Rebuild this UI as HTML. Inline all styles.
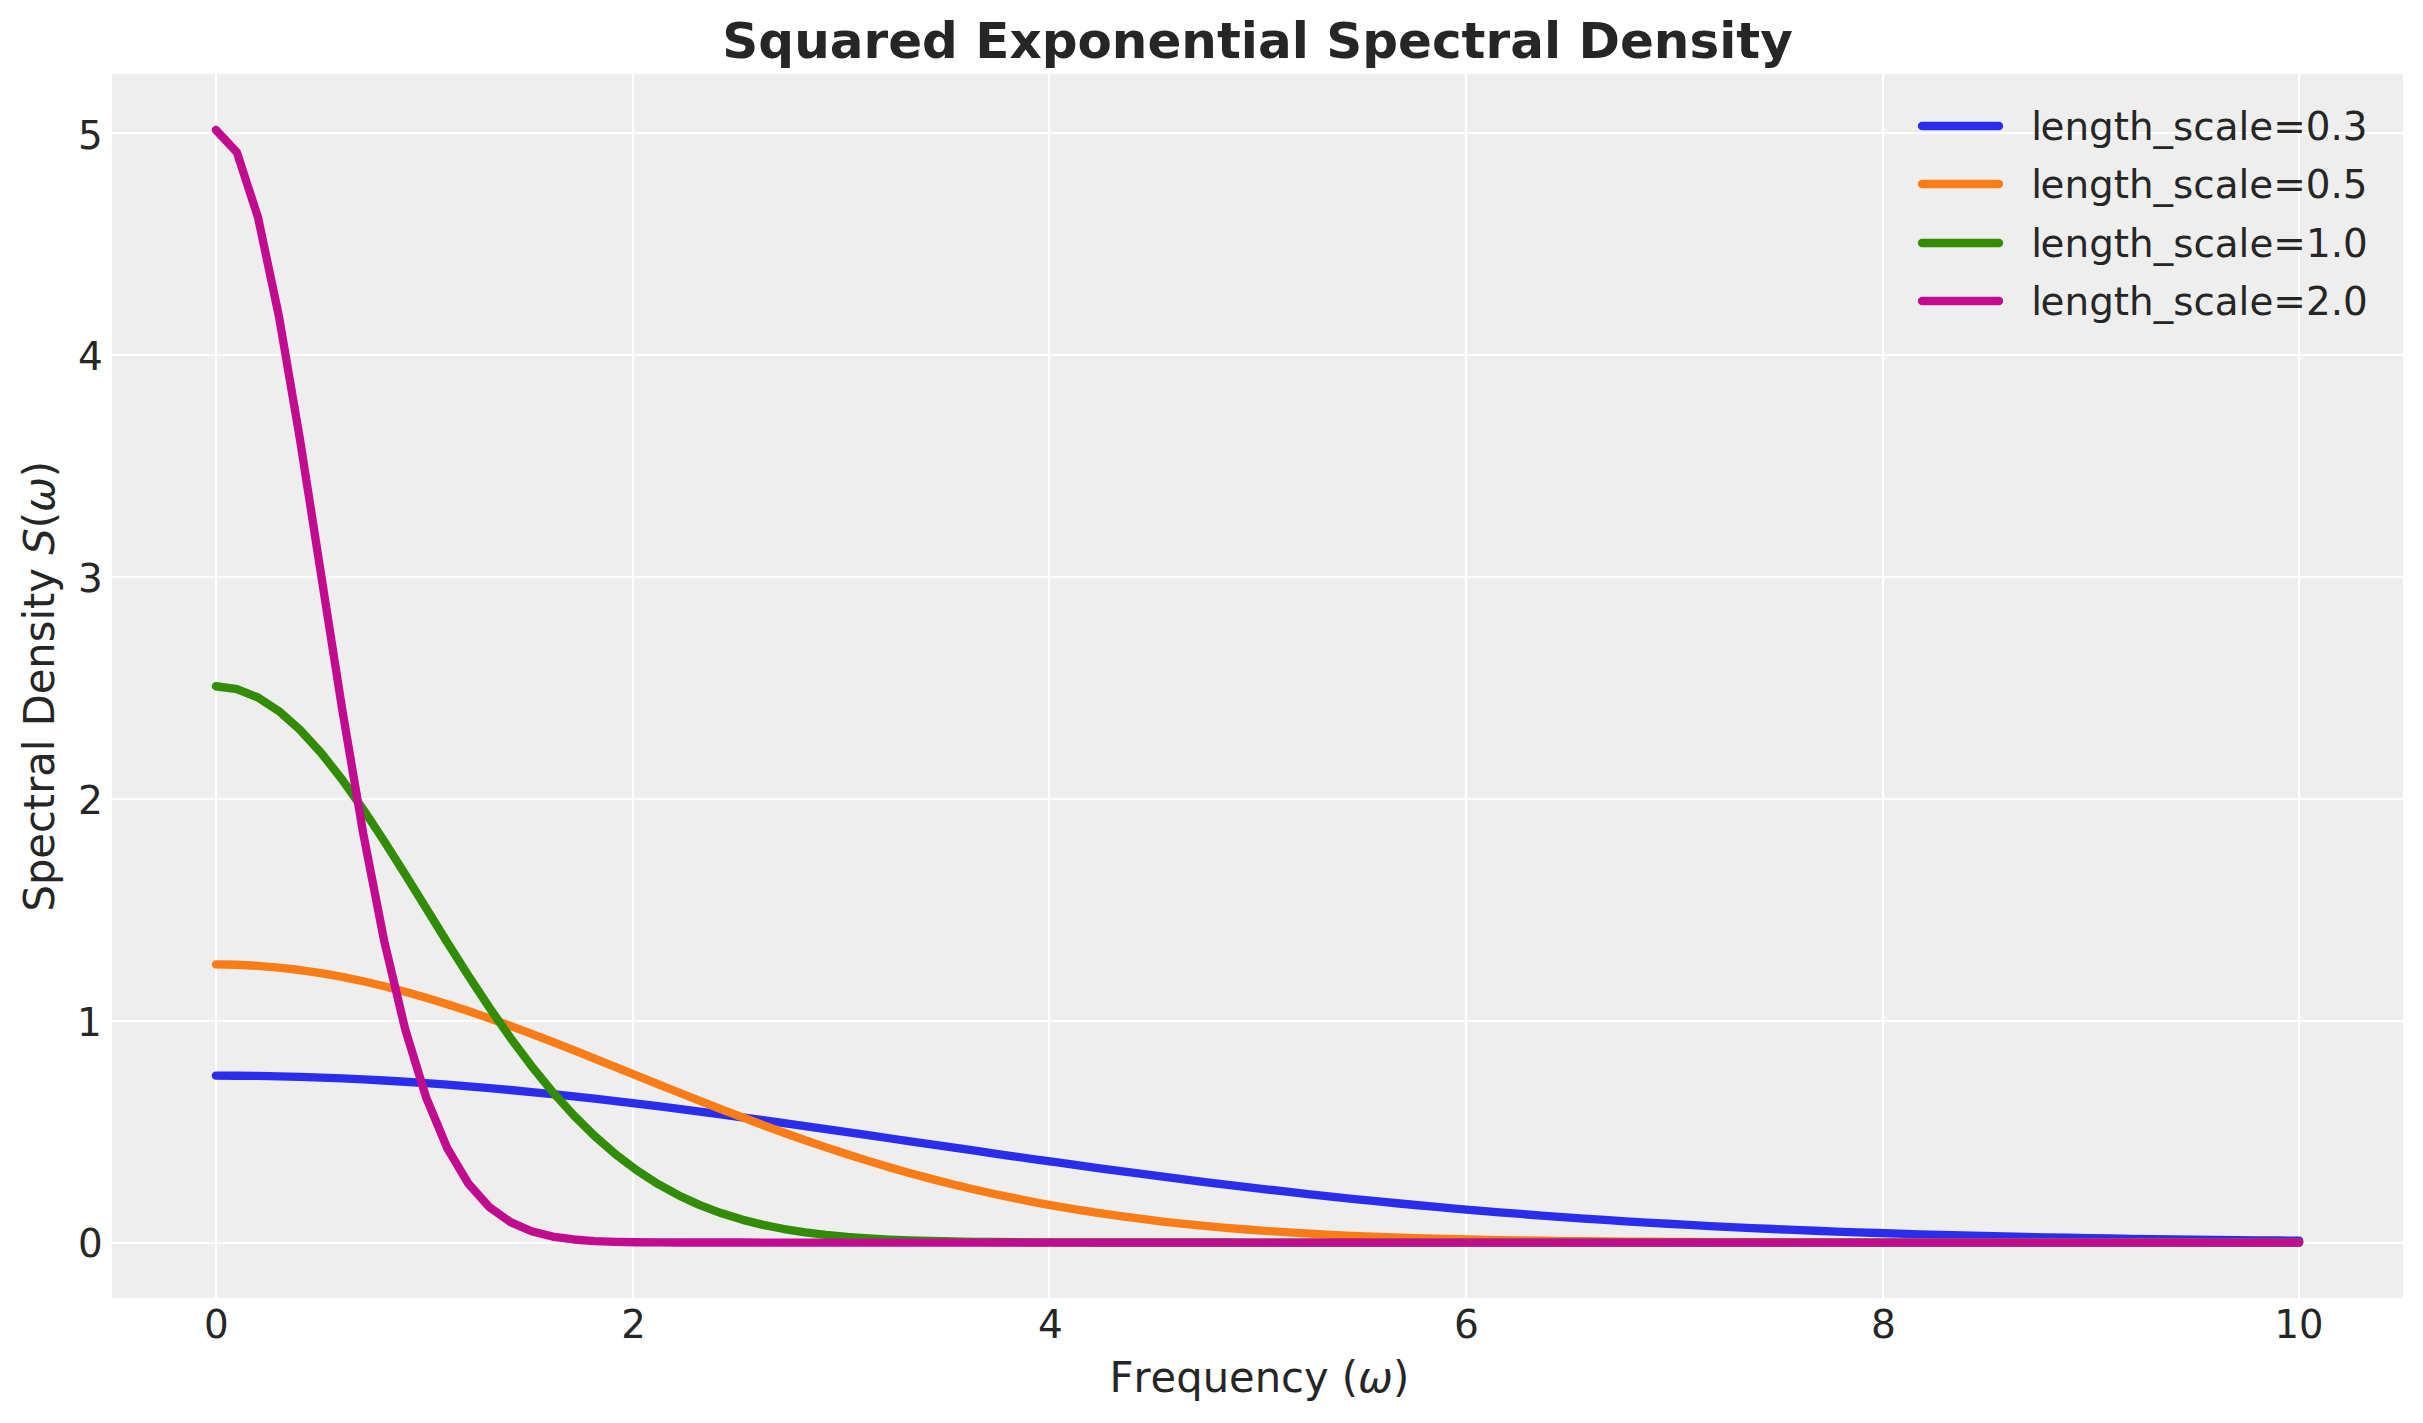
<!DOCTYPE html>
<html><head><meta charset="utf-8"><title>Squared Exponential Spectral Density</title>
<style>
html,body{margin:0;padding:0;background:#fff;}
body{width:2423px;height:1423px;overflow:hidden;}
svg{display:block;}
text{font-family:"DejaVu Sans","Liberation Sans",sans-serif;fill:#262626;}
.tick{font-size:38.89px;}
.lab{font-size:41.67px;font-kerning:none;}
.ttl{font-size:50px;font-weight:bold;}
.it{font-style:italic;}
</style></head><body>
<svg width="2423" height="1423" viewBox="0 0 2423 1423">
<rect x="0" y="0" width="2423" height="1423" fill="#ffffff"/>
<rect x="112.0" y="74.0" width="2291.0" height="1224.0" fill="#eeeeee"/>

<g stroke="#ffffff" stroke-width="2.2" fill="none">
<line x1="216" y1="74.0" x2="216" y2="1298.0"/>
<line x1="633" y1="74.0" x2="633" y2="1298.0"/>
<line x1="1049" y1="74.0" x2="1049" y2="1298.0"/>
<line x1="1466" y1="74.0" x2="1466" y2="1298.0"/>
<line x1="1883" y1="74.0" x2="1883" y2="1298.0"/>
<line x1="2299" y1="74.0" x2="2299" y2="1298.0"/>
<line x1="112.0" y1="1243" x2="2403.0" y2="1243"/>
<line x1="112.0" y1="1021" x2="2403.0" y2="1021"/>
<line x1="112.0" y1="799" x2="2403.0" y2="799"/>
<line x1="112.0" y1="577" x2="2403.0" y2="577"/>
<line x1="112.0" y1="355" x2="2403.0" y2="355"/>
<line x1="112.0" y1="133" x2="2403.0" y2="133"/>
</g>
<g fill="none" stroke-width="8.33" stroke-linecap="round" stroke-linejoin="round">
<path d="M215.87 1075.65 L236.92 1075.73 L257.96 1075.96 L279.00 1076.34 L300.05 1076.87 L321.09 1077.56 L342.13 1078.39 L363.18 1079.36 L384.22 1080.48 L405.26 1081.74 L426.31 1083.14 L447.35 1084.67 L468.39 1086.33 L489.44 1088.11 L510.48 1090.01 L531.52 1092.03 L552.57 1094.16 L573.61 1096.39 L594.65 1098.72 L615.70 1101.14 L636.74 1103.65 L657.78 1106.24 L678.83 1108.91 L699.87 1111.64 L720.91 1114.43 L741.96 1117.28 L763.00 1120.18 L784.04 1123.12 L805.09 1126.10 L826.13 1129.11 L847.17 1132.14 L868.22 1135.19 L889.26 1138.25 L910.30 1141.32 L931.35 1144.38 L952.39 1147.44 L973.43 1150.49 L994.48 1153.53 L1015.52 1156.54 L1036.56 1159.53 L1057.61 1162.48 L1078.65 1165.41 L1099.69 1168.29 L1120.74 1171.13 L1141.78 1173.93 L1162.82 1176.68 L1183.87 1179.37 L1204.91 1182.01 L1225.95 1184.59 L1247.00 1187.12 L1268.04 1189.58 L1289.09 1191.98 L1310.13 1194.32 L1331.17 1196.59 L1352.22 1198.79 L1373.26 1200.92 L1394.30 1202.99 L1415.35 1204.99 L1436.39 1206.92 L1457.43 1208.79 L1478.48 1210.58 L1499.52 1212.31 L1520.56 1213.97 L1541.61 1215.56 L1562.65 1217.09 L1583.69 1218.55 L1604.74 1219.95 L1625.78 1221.29 L1646.82 1222.57 L1667.87 1223.78 L1688.91 1224.94 L1709.95 1226.05 L1731.00 1227.10 L1752.04 1228.09 L1773.08 1229.03 L1794.13 1229.93 L1815.17 1230.77 L1836.21 1231.57 L1857.26 1232.32 L1878.30 1233.03 L1899.34 1233.70 L1920.39 1234.33 L1941.43 1234.92 L1962.47 1235.48 L1983.52 1236.00 L2004.56 1236.49 L2025.60 1236.94 L2046.65 1237.37 L2067.69 1237.77 L2088.73 1238.14 L2109.78 1238.49 L2130.82 1238.81 L2151.86 1239.11 L2172.91 1239.39 L2193.95 1239.65 L2214.99 1239.89 L2236.04 1240.11 L2257.08 1240.32 L2278.12 1240.51 L2299.17 1240.68" stroke="#2a2eec"/>
<path d="M215.87 964.39 L236.92 964.75 L257.96 965.81 L279.00 967.57 L300.05 970.01 L321.09 973.12 L342.13 976.88 L363.18 981.24 L384.22 986.20 L405.26 991.69 L426.31 997.70 L447.35 1004.17 L468.39 1011.06 L489.44 1018.32 L510.48 1025.91 L531.52 1033.78 L552.57 1041.87 L573.61 1050.14 L594.65 1058.54 L615.70 1067.02 L636.74 1075.54 L657.78 1084.05 L678.83 1092.51 L699.87 1100.87 L720.91 1109.12 L741.96 1117.20 L763.00 1125.09 L784.04 1132.77 L805.09 1140.20 L826.13 1147.38 L847.17 1154.28 L868.22 1160.88 L889.26 1167.19 L910.30 1173.18 L931.35 1178.86 L952.39 1184.23 L973.43 1189.27 L994.48 1194.01 L1015.52 1198.44 L1036.56 1202.56 L1057.61 1206.39 L1078.65 1209.94 L1099.69 1213.22 L1120.74 1216.23 L1141.78 1218.99 L1162.82 1221.52 L1183.87 1223.82 L1204.91 1225.91 L1225.95 1227.81 L1247.00 1229.52 L1268.04 1231.07 L1289.09 1232.45 L1310.13 1233.70 L1331.17 1234.80 L1352.22 1235.79 L1373.26 1236.67 L1394.30 1237.44 L1415.35 1238.13 L1436.39 1238.73 L1457.43 1239.26 L1478.48 1239.72 L1499.52 1240.12 L1520.56 1240.47 L1541.61 1240.78 L1562.65 1241.04 L1583.69 1241.27 L1604.74 1241.46 L1625.78 1241.63 L1646.82 1241.77 L1667.87 1241.90 L1688.91 1242.00 L1709.95 1242.09 L1731.00 1242.16 L1752.04 1242.23 L1773.08 1242.28 L1794.13 1242.32 L1815.17 1242.36 L1836.21 1242.39 L1857.26 1242.42 L1878.30 1242.44 L1899.34 1242.46 L1920.39 1242.47 L1941.43 1242.49 L1962.47 1242.50 L1983.52 1242.50 L2004.56 1242.51 L2025.60 1242.52 L2046.65 1242.52 L2067.69 1242.52 L2088.73 1242.53 L2109.78 1242.53 L2130.82 1242.53 L2151.86 1242.53 L2172.91 1242.53 L2193.95 1242.53 L2214.99 1242.54 L2236.04 1242.54 L2257.08 1242.54 L2278.12 1242.54 L2299.17 1242.54" stroke="#fa7c17"/>
<path d="M215.87 686.25 L236.92 689.08 L257.96 697.49 L279.00 711.21 L300.05 729.85 L321.09 752.86 L342.13 779.58 L363.18 809.29 L384.22 841.21 L405.26 874.55 L426.31 908.54 L447.35 942.47 L468.39 975.69 L489.44 1007.65 L510.48 1037.87 L531.52 1066.02 L552.57 1091.84 L573.61 1115.19 L594.65 1136.01 L615.70 1154.34 L636.74 1170.25 L657.78 1183.89 L678.83 1195.44 L699.87 1205.10 L720.91 1213.08 L741.96 1219.60 L763.00 1224.85 L784.04 1229.04 L805.09 1232.35 L826.13 1234.92 L847.17 1236.90 L868.22 1238.41 L889.26 1239.54 L910.30 1240.39 L931.35 1241.01 L952.39 1241.46 L973.43 1241.79 L994.48 1242.02 L1015.52 1242.19 L1036.56 1242.30 L1057.61 1242.38 L1078.65 1242.43 L1099.69 1242.47 L1120.74 1242.49 L1141.78 1242.51 L1162.82 1242.52 L1183.87 1242.53 L1204.91 1242.53 L1225.95 1242.53 L1247.00 1242.54 L1268.04 1242.54 L1289.09 1242.54 L1310.13 1242.54 L1331.17 1242.54 L1352.22 1242.54 L1373.26 1242.54 L1394.30 1242.54 L1415.35 1242.54 L1436.39 1242.54 L1457.43 1242.54 L1478.48 1242.54 L1499.52 1242.54 L1520.56 1242.54 L1541.61 1242.54 L1562.65 1242.54 L1583.69 1242.54 L1604.74 1242.54 L1625.78 1242.54 L1646.82 1242.54 L1667.87 1242.54 L1688.91 1242.54 L1709.95 1242.54 L1731.00 1242.54 L1752.04 1242.54 L1773.08 1242.54 L1794.13 1242.54 L1815.17 1242.54 L1836.21 1242.54 L1857.26 1242.54 L1878.30 1242.54 L1899.34 1242.54 L1920.39 1242.54 L1941.43 1242.54 L1962.47 1242.54 L1983.52 1242.54 L2004.56 1242.54 L2025.60 1242.54 L2046.65 1242.54 L2067.69 1242.54 L2088.73 1242.54 L2109.78 1242.54 L2130.82 1242.54 L2151.86 1242.54 L2172.91 1242.54 L2193.95 1242.54 L2214.99 1242.54 L2236.04 1242.54 L2257.08 1242.54 L2278.12 1242.54 L2299.17 1242.54" stroke="#328c06"/>
<path d="M215.87 129.96 L236.92 152.44 L257.96 217.17 L279.00 316.63 L300.05 439.88 L321.09 574.54 L342.13 708.85 L363.18 833.20 L384.22 941.14 L405.26 1029.49 L426.31 1097.96 L447.35 1148.35 L468.39 1183.63 L489.44 1207.17 L510.48 1222.15 L531.52 1231.26 L552.57 1236.55 L573.61 1239.48 L594.65 1241.04 L615.70 1241.83 L636.74 1242.22 L657.78 1242.40 L678.83 1242.48 L699.87 1242.52 L720.91 1242.53 L741.96 1242.53 L763.00 1242.54 L784.04 1242.54 L805.09 1242.54 L826.13 1242.54 L847.17 1242.54 L868.22 1242.54 L889.26 1242.54 L910.30 1242.54 L931.35 1242.54 L952.39 1242.54 L973.43 1242.54 L994.48 1242.54 L1015.52 1242.54 L1036.56 1242.54 L1057.61 1242.54 L1078.65 1242.54 L1099.69 1242.54 L1120.74 1242.54 L1141.78 1242.54 L1162.82 1242.54 L1183.87 1242.54 L1204.91 1242.54 L1225.95 1242.54 L1247.00 1242.54 L1268.04 1242.54 L1289.09 1242.54 L1310.13 1242.54 L1331.17 1242.54 L1352.22 1242.54 L1373.26 1242.54 L1394.30 1242.54 L1415.35 1242.54 L1436.39 1242.54 L1457.43 1242.54 L1478.48 1242.54 L1499.52 1242.54 L1520.56 1242.54 L1541.61 1242.54 L1562.65 1242.54 L1583.69 1242.54 L1604.74 1242.54 L1625.78 1242.54 L1646.82 1242.54 L1667.87 1242.54 L1688.91 1242.54 L1709.95 1242.54 L1731.00 1242.54 L1752.04 1242.54 L1773.08 1242.54 L1794.13 1242.54 L1815.17 1242.54 L1836.21 1242.54 L1857.26 1242.54 L1878.30 1242.54 L1899.34 1242.54 L1920.39 1242.54 L1941.43 1242.54 L1962.47 1242.54 L1983.52 1242.54 L2004.56 1242.54 L2025.60 1242.54 L2046.65 1242.54 L2067.69 1242.54 L2088.73 1242.54 L2109.78 1242.54 L2130.82 1242.54 L2151.86 1242.54 L2172.91 1242.54 L2193.95 1242.54 L2214.99 1242.54 L2236.04 1242.54 L2257.08 1242.54 L2278.12 1242.54 L2299.17 1242.54" stroke="#c10c90"/>
</g>
<g fill="none" stroke-width="8.33" stroke-linecap="round">
<line x1="1922" y1="126" x2="1999" y2="126" stroke="#2a2eec"/>
<line x1="1922" y1="184" x2="1999" y2="184" stroke="#fa7c17"/>
<line x1="1922" y1="243" x2="1999" y2="243" stroke="#328c06"/>
<line x1="1922" y1="301" x2="1999" y2="301" stroke="#c10c90"/>
</g>
<text class="tick" transform="translate(2029.67 139.50)"><tspan dx="1.5">l</tspan><tspan dx="-1.5">ength_scale=0.3</tspan></text>
<text class="tick" transform="translate(2029.67 197.50)"><tspan dx="1.5">l</tspan><tspan dx="-1.5">ength_scale=0.5</tspan></text>
<text class="tick" transform="translate(2029.80 256.50)"><tspan dx="1.5">l</tspan><tspan dx="-1.5">ength_scale=1.0</tspan></text>
<text class="tick" transform="translate(2029.80 314.50)"><tspan dx="1.5">l</tspan><tspan dx="-1.5">ength_scale=2.0</tspan></text>
<text class="tick" transform="translate(216.33 1337.50) scale(1.0000 0.9900)" text-anchor="middle">0</text>
<text class="tick" transform="translate(633.49 1337.50) scale(0.9950 1.0100)" text-anchor="middle">2</text>
<text class="tick" transform="translate(1050.42 1337.50) scale(1.0050 1.0100)" text-anchor="middle">4</text>
<text class="tick" transform="translate(1466.35 1337.50) scale(1.0050 1.0000)" text-anchor="middle">6</text>
<text class="tick" transform="translate(1883.34 1337.50) scale(1.0050 1.0200)" text-anchor="middle">8</text>
<text class="tick" transform="translate(2298.92 1337.50) scale(0.9900 0.9900)" text-anchor="middle">10</text>
<text class="tick" transform="translate(102.67 1256.50) scale(1.0000 0.9900)" text-anchor="end">0</text>
<text class="tick" transform="translate(101.75 1035.50) scale(1.0000 0.9900)" text-anchor="end">1</text>
<text class="tick" transform="translate(102.97 813.50) scale(1.0100 1.0000)" text-anchor="end">2</text>
<text class="tick" transform="translate(102.80 592.25) scale(1.0000 1.0200)" text-anchor="end">3</text>
<text class="tick" transform="translate(102.85 369.50) scale(1.0050 1.0100)" text-anchor="end">4</text>
<text class="tick" transform="translate(102.67 148.50)" text-anchor="end">5</text>
<text class="lab" transform="translate(1259.35 1391.58) scale(1.0000 1.0403)" text-anchor="middle">Frequency (<tspan class="it">ω</tspan>)</text>
<text class="lab" transform="translate(53.60 686.25) rotate(-90) scale(1.0000 1.0300)" text-anchor="middle">Spectral Density <tspan class="it">S</tspan>(<tspan class="it">ω</tspan>)</text>
<text class="ttl" transform="translate(1257.60 57.50) scale(1.0000 1.0100)" text-anchor="middle">Squared Exponential Spectral Density</text>
</svg></body></html>
